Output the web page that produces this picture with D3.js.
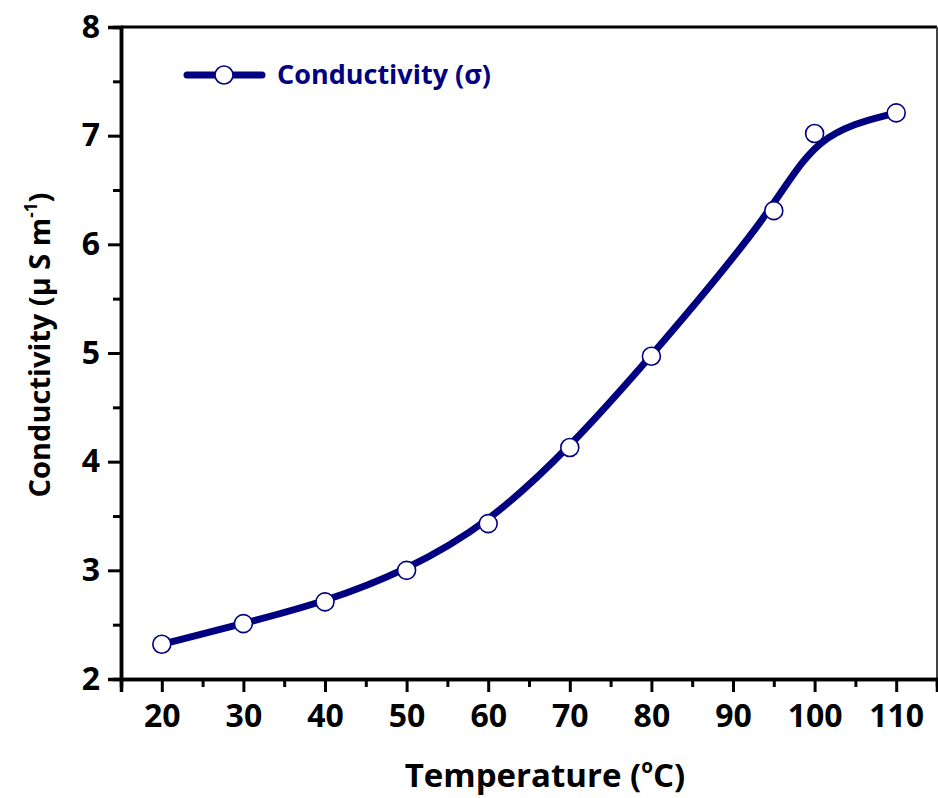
<!DOCTYPE html>
<html>
<head>
<meta charset="utf-8">
<script src="https://cdn.jsdelivr.net/npm/d3@7"></script>
<style>
  body { margin: 0; background: #fff; }
  svg { display: block; }
  text { font-family: "Open Sans", Lato, sans-serif; font-weight: bold; }
</style>
</head>
<body>
<svg id="chart" width="938" height="798"></svg>
<script>
// Conductivity measured against temperature
const temperature = [20, 30, 40, 50, 60, 70, 80, 95, 100, 110];
const conductivity = [2.32, 2.51, 2.71, 3.00, 3.43, 4.13, 4.97, 6.31, 7.02, 7.21];

const xMajorTicks = [20, 30, 40, 50, 60, 70, 80, 90, 100, 110];
const xMinorTicks = [15, 25, 35, 45, 55, 65, 75, 85, 95, 105, 115];
const yMajorTicks = [2, 3, 4, 5, 6, 7, 8];
const yMinorTicks = [2.5, 3.5, 4.5, 5.5, 6.5, 7.5];

const seriesName = "Conductivity (σ)";
const navy = "#000080";
const fontStack = "'Open Sans', Lato, sans-serif";

const svg = d3.select("#chart");
const plot = { left: 121, top: 27, right: 937, bottom: 679 };

const x = d3.scaleLinear().domain([15, 115]).range([plot.left, plot.right]);
const y = d3.scaleLinear().domain([2, 8]).range([plot.bottom, plot.top]);

// frame: top and right edges
svg.append("line")
  .attr("x1", plot.left).attr("x2", plot.right)
  .attr("y1", plot.top).attr("y2", plot.top)
  .attr("stroke", "#000").attr("stroke-width", 3);
svg.append("line")
  .attr("x1", plot.right).attr("x2", plot.right)
  .attr("y1", plot.top).attr("y2", plot.bottom)
  .attr("stroke", "#444").attr("stroke-width", 2);

// x axis: minor ticks, then major ticks with labels
const xMinor = svg.append("g")
  .attr("transform", `translate(0,${plot.bottom})`)
  .call(d3.axisBottom(x).tickValues(xMinorTicks).tickSize(8).tickFormat(""));
const xMajor = svg.append("g")
  .attr("transform", `translate(0,${plot.bottom})`)
  .call(d3.axisBottom(x).tickValues(xMajorTicks).tickSize(13).tickPadding(12).tickFormat(d3.format("d")));

// y axis
const yMinor = svg.append("g")
  .attr("transform", `translate(${plot.left},0)`)
  .call(d3.axisLeft(y).tickValues(yMinorTicks).tickSize(8).tickFormat(""));
const yMajor = svg.append("g")
  .attr("transform", `translate(${plot.left},0)`)
  .call(d3.axisLeft(y).tickValues(yMajorTicks).tickSize(13).tickPadding(8).tickFormat(d3.format("d")));

[xMinor, xMajor, yMinor, yMajor].forEach(g => {
  g.select(".domain").attr("stroke", "#000").attr("stroke-width", 3.5);
  g.selectAll(".tick line").attr("stroke", "#000").attr("stroke-width", 3);
  g.selectAll(".tick text")
    .attr("fill", "#000")
    .style("font-size", "32px")
    .style("font-family", fontStack)
    .style("font-weight", "bold");
});

// smoothed series line
const points = temperature.map((t, i) => [t, conductivity[i]]);
const line = d3.line()
  .x(d => x(d[0]))
  .y(d => y(d[1]))
  .curve(d3.curveBasis);

svg.append("path")
  .datum(points)
  .attr("d", line)
  .attr("fill", "none")
  .attr("stroke", navy)
  .attr("stroke-width", 7)
  .attr("stroke-linecap", "round")
  .attr("stroke-linejoin", "round");

svg.append("g")
  .selectAll("circle")
  .data(points)
  .join("circle")
  .attr("cx", d => x(d[0]))
  .attr("cy", d => y(d[1]))
  .attr("r", 9)
  .attr("fill", "#fff")
  .attr("stroke", navy)
  .attr("stroke-width", 1.6);

// legend
const legend = svg.append("g").attr("transform", "translate(187,75)");
legend.append("line")
  .attr("x1", 0).attr("x2", 75).attr("y1", 0).attr("y2", 0)
  .attr("stroke", navy).attr("stroke-width", 7).attr("stroke-linecap", "round");
legend.append("circle")
  .attr("cx", 37).attr("cy", 0).attr("r", 9)
  .attr("fill", "#fff").attr("stroke", navy).attr("stroke-width", 1.6);
legend.append("text")
  .attr("x", 90).attr("y", 9)
  .attr("fill", navy)
  .style("font-size", "27px")
  .text(seriesName);

// axis titles
const xTitle = svg.append("text")
  .attr("x", 545).attr("y", 787)
  .attr("text-anchor", "middle")
  .attr("fill", "#000")
  .style("font-size", "33px");
xTitle.append("tspan").text("Temperature (");
xTitle.append("tspan").attr("dy", -14).style("font-size", "19px").text("o");
xTitle.append("tspan").attr("dy", 14).text("C)");

const yTitle = svg.append("text")
  .attr("transform", "translate(50,345) rotate(-90)")
  .attr("text-anchor", "middle")
  .attr("fill", "#000")
  .style("font-size", "29px");
yTitle.append("tspan").text("Conductivity (µ S m");
yTitle.append("tspan").attr("dy", -13).style("font-size", "17px").text("-1");
yTitle.append("tspan").attr("dy", 13).text(")");
</script>
</body>
</html>
